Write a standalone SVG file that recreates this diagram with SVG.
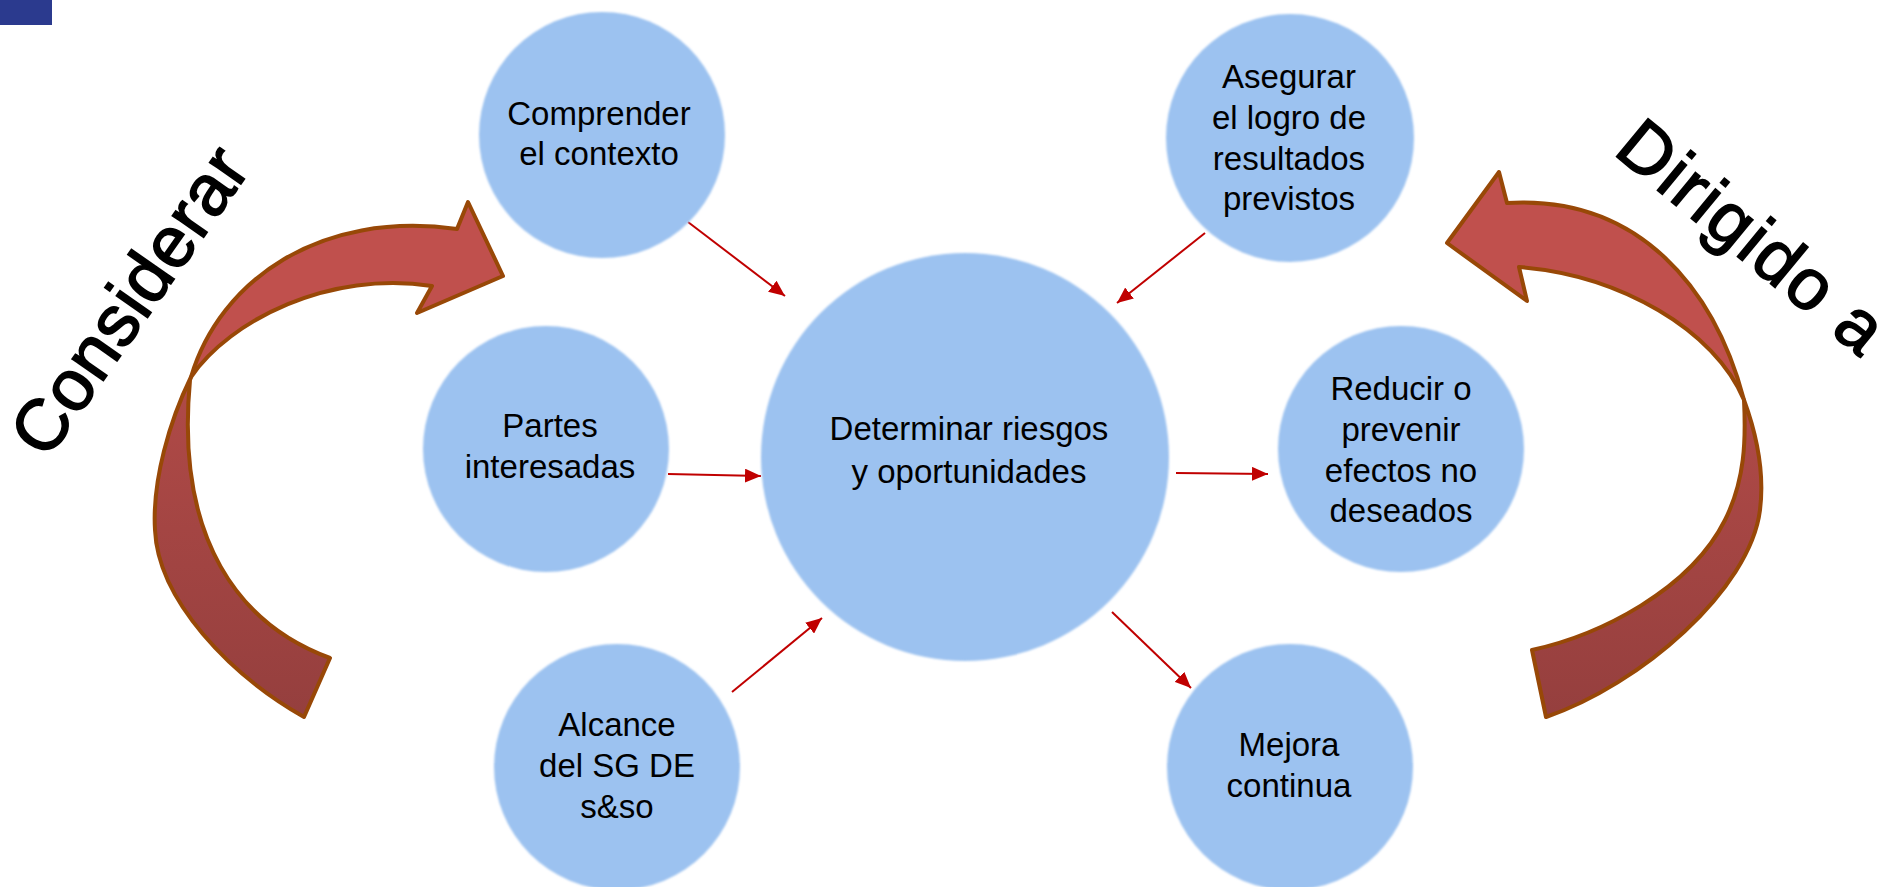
<svg xmlns="http://www.w3.org/2000/svg" width="1889" height="887" viewBox="0 0 1889 887">
<style>
.node{fill:#9CC2F0;filter:url(#soft)}
.lbl{font-family:"Liberation Sans",Arial,sans-serif;font-size:33px;fill:#000;text-anchor:middle}
.big{font-family:"Liberation Sans",Arial,sans-serif;font-size:72px;fill:#000;stroke:#000;stroke-width:1.6}
.conn{stroke:#C00000;stroke-width:2;fill:none;marker-end:url(#ah)}
.front{fill:#C0504D;stroke:#984807;stroke-width:4;stroke-linejoin:round}
.tail{fill:url(#tailg);stroke:#984807;stroke-width:4;stroke-linejoin:round}
</style>
<defs>
<filter id="soft" x="-5%" y="-5%" width="110%" height="110%"><feGaussianBlur stdDeviation="1.2"/></filter>
<marker id="ah" markerUnits="userSpaceOnUse" markerWidth="16" markerHeight="14" refX="16" refY="7" orient="auto"><path d="M0,0 L16,7 L0,14 z" fill="#C00000"/></marker>
<linearGradient id="tailg" x1="0" y1="0" x2="0" y2="1"><stop offset="0" stop-color="#B04A47"/><stop offset="1" stop-color="#953F3E"/></linearGradient>
</defs>
<rect x="0" y="0" width="52" height="25" fill="#2B3A8E"/>
<g id="arrow-left">
<path class="tail" d="M191,377 C170,420 152,480 155,530 C158,600 230,675 304,717 L330,658 C240,625 175,540 190,380 Z"/>
<path class="front" d="M191,377 C220,280 320,210 457,229 L468,202 L503,276 L417,313 L432,286 C330,270 230,320 191,377 Z"/>
</g>
<g id="arrow-right">
<path class="tail" d="M1744,400 C1755,430 1765,470 1760,510 C1750,590 1640,685 1546,717 L1532,650 C1600,635 1690,590 1725,520 C1745,480 1746,440 1744,400 Z"/>
<path class="front" d="M1744,400 C1715,290 1640,195 1507,203 L1499,172 L1447,243 L1527,301 L1519,267 C1620,275 1715,330 1744,400 Z"/>
</g>
<g id="label-considerar"><text class="big" transform="translate(47,461) rotate(-55)" textLength="357" lengthAdjust="spacing">Considerar</text></g>
<g id="label-dirigido"><text class="big" transform="translate(1612,153) rotate(39.5)" textLength="322" lengthAdjust="spacing">Dirigido a</text></g>
<g id="connectors">
<line class="conn" x1="688" y1="222" x2="785" y2="296"/>
<line class="conn" x1="1205" y1="233" x2="1117" y2="303"/>
<line class="conn" x1="668" y1="474" x2="761" y2="476"/>
<line class="conn" x1="732" y1="692" x2="822" y2="618"/>
<line class="conn" x1="1176" y1="473" x2="1268" y2="474"/>
<line class="conn" x1="1112" y1="612" x2="1191" y2="688"/>
</g>
<g id="n-center"><circle class="node" cx="965" cy="457" r="204"/><text class="lbl" x="969" y="440">Determinar riesgos</text><text class="lbl" x="969" y="483">y oportunidades</text></g>
<g id="n-comprender"><circle class="node" cx="602" cy="135" r="123"/><text class="lbl" x="599" y="125">Comprender</text><text class="lbl" x="599" y="165">el contexto</text></g>
<g id="n-partes"><circle class="node" cx="546" cy="449" r="123"/><text class="lbl" x="550" y="437">Partes</text><text class="lbl" x="550" y="478">interesadas</text></g>
<g id="n-alcance"><circle class="node" cx="617" cy="767" r="123"/><text class="lbl" x="617" y="736">Alcance</text><text class="lbl" x="617" y="777">del SG DE</text><text class="lbl" x="617" y="818">s&amp;so</text></g>
<g id="n-asegurar"><circle class="node" cx="1290" cy="138" r="124"/><text class="lbl" x="1289" y="88">Asegurar</text><text class="lbl" x="1289" y="129">el logro de</text><text class="lbl" x="1289" y="170">resultados</text><text class="lbl" x="1289" y="210">previstos</text></g>
<g id="n-reducir"><circle class="node" cx="1401" cy="449" r="123"/><text class="lbl" x="1401" y="400">Reducir o</text><text class="lbl" x="1401" y="441">prevenir</text><text class="lbl" x="1401" y="482">efectos no</text><text class="lbl" x="1401" y="522">deseados</text></g>
<g id="n-mejora"><circle class="node" cx="1290" cy="767" r="123"/><text class="lbl" x="1289" y="756">Mejora</text><text class="lbl" x="1289" y="797">continua</text></g>
</svg>
